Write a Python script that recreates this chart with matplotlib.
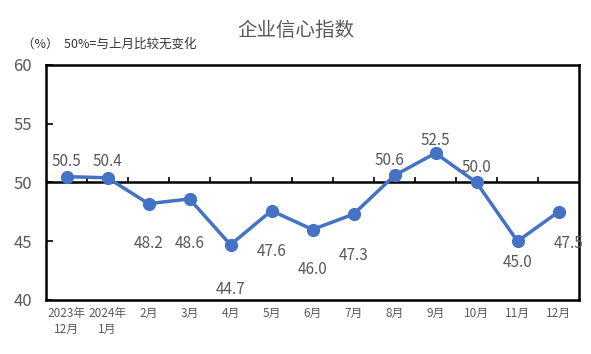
import matplotlib
matplotlib.use('Agg')
import matplotlib.pyplot as plt
import numpy as np

plt.rcParams['font.family'] = ['Noto Sans CJK SC', 'DejaVu Sans']

# 数据
months = ['2023年\n12月', '2024年\n1月', '2月', '3月', '4月', '5月', '6月',
          '7月', '8月', '9月', '10月', '11月', '12月']
values = [50.5, 50.4, 48.2, 48.6, 44.7, 47.6, 46.0, 47.3, 50.6, 52.5, 50.0, 45.0, 47.5]

# 标签偏移 (像素)
label_dx = [0, 0, 0, 0, 0, 0, 0, 0, -5, 0, 0, 0, 10]
label_dy = [15, 16, -40, -45, -45, -41, -40, -41, 15, 13, 15, -21, -32]

blue = '#4472C4'
grey = '#595959'

fig = plt.figure(figsize=(5.91, 3.54), dpi=100)
ax = fig.add_axes([46 / 591, 1 - 300 / 354, 533 / 591, 235 / 354])

x = np.arange(len(months))
ax.plot(x, values, color=blue, lw=2.5, marker='o', ms=8.5, zorder=3)

for i, v in enumerate(values):
    ax.annotate(f'{v:.1f}', (x[i], v), xytext=(label_dx[i], label_dy[i]),
                textcoords='offset pixels', ha='center', va='center',
                fontsize=11, color=grey)

# 50 线
ax.axhline(50, color='black', lw=1.8, zorder=2)
ax.vlines(np.arange(0.5, len(months) - 1), 50, 50.45, color='black', lw=1.2)

ax.set_xlim(-0.5, len(months) - 0.5)
ax.set_ylim(40, 60)
ax.set_yticks([40, 45, 50, 55, 60])
ax.set_xticks(x)
ax.set_xticklabels(months, fontsize=8.5, color=grey, linespacing=1.3)
ax.tick_params(axis='x', length=0, pad=5)
ax.tick_params(axis='y', direction='in', length=5, width=1.2, labelsize=12,
               labelcolor=grey, pad=10)
for s in ax.spines.values():
    s.set_linewidth(1.8)

fig.text(296 / 591, 1 - 30 / 354, '企业信心指数', ha='center', va='center',
         fontsize=14, color=grey)
fig.text(22 / 591, 1 - 44 / 354, '（%）  50%=与上月比较无变化', ha='left',
         va='center', fontsize=9, color='#333333')

fig.savefig('out.png', dpi=100)
